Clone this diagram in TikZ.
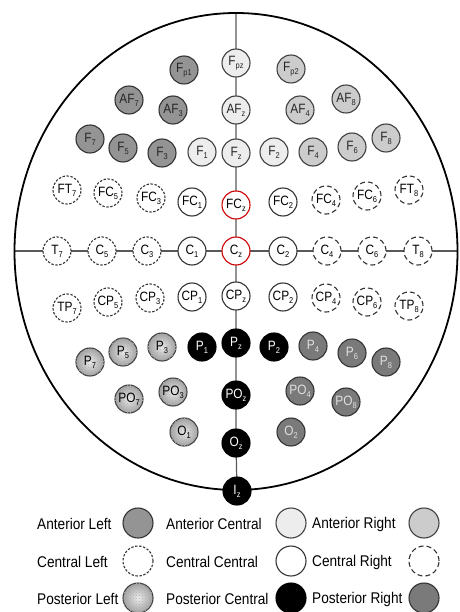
\documentclass[tikz,border=0pt]{standalone}
\usepackage{fontspec}
\setmainfont[FakeStretch=0.88]{Liberation Sans}
\usetikzlibrary{backgrounds,patterns}

% electrode name with a small lowered index
\newcommand\eln[2]{#1\raisebox{-0.4ex}{\fontsize{8.5}{8.5}\selectfont #2}}

\begin{document}
\begin{tikzpicture}[x=1pt,y=-1pt,
  el/.style={circle, minimum size=28pt, inner sep=0pt, line width=1.1pt,
             font=\fontsize{13.5}{13.5}\selectfont},
  antL/.style={el, draw=black!80, fill=black!42, text=black!85},
  antC/.style={el, draw=black!75, fill=black!7, text=black!85},
  antR/.style={el, draw=black!75, fill=black!20, text=black!85},
  cenL/.style={el, draw=black!80, fill=white, dash pattern=on 2.4pt off 1.6pt},
  cenC/.style={el, draw=black!80, fill=white},
  cenR/.style={el, draw=black!80, fill=white, dash pattern=on 5pt off 3pt},
  posL/.style={el, draw=black!75, inner color=black!6, outer color=black!38,
               postaction={pattern=crosshatch dots, pattern color=black!30}},
  posC/.style={el, draw=black, fill=black, text=white},
  posR/.style={el, draw=black!80, fill=black!52, text=black!12},
  midline/.style={draw=black!65, line width=1.2pt},
  legtext/.style={anchor=west, inner sep=0pt, font=\fontsize{15.5}{15.5}\selectfont},
  legkey/.style={minimum size=30pt},
  ref/.style={draw=red!80!black}
]
\useasboundingbox (0,0) rectangle (459,612);

% head outline and its reference points
\draw[line width=1.8pt] (236,251.5) ellipse [x radius=221.5pt, y radius=238.5pt];
\coordinate (htop) at (236,13);
\coordinate (hleft) at (14.5,251);
\coordinate (hright) at (457.5,251);

% anterior left
\node[antL] (Fp1) at (184,70) {\eln{F}{p1}};
\node[antL] (AF7) at (129,100) {\eln{AF}{7}};
\node[antL] (AF3) at (173,110) {\eln{AF}{3}};
\node[antL] (F7) at (90,139) {\eln{F}{7}};
\node[antL] (F5) at (123,148) {\eln{F}{5}};
\node[antL] (F3) at (162,153) {\eln{F}{3}};
% anterior central
\node[antC] (Fpz) at (236,63) {\eln{F}{pz}};
\node[antC] (AFz) at (236,110) {\eln{AF}{z}};
\node[antC] (Fz) at (236,153) {\eln{F}{z}};
\node[antC] (F1) at (202,152) {\eln{F}{1}};
\node[antC] (F2) at (274,152) {\eln{F}{2}};
% anterior right
\node[antR] (Fp2) at (291,69) {\eln{F}{p2}};
\node[antR] (AF4) at (300,110) {\eln{AF}{4}};
\node[antR] (AF8) at (346,99) {\eln{AF}{8}};
\node[antR] (F4) at (313,152) {\eln{F}{4}};
\node[antR] (F6) at (352,147) {\eln{F}{6}};
\node[antR] (F8) at (386,138) {\eln{F}{8}};
% central left
\node[cenL] (FT7) at (67,190) {\eln{FT}{7}};
\node[cenL] (FC5) at (108,193) {\eln{FC}{5}};
\node[cenL] (FC3) at (151,198) {\eln{FC}{3}};
\node[cenL] (T7) at (57,251) {\eln{T}{7}};
\node[cenL] (C5) at (102,251) {\eln{C}{5}};
\node[cenL] (C3) at (147,251) {\eln{C}{3}};
\node[cenL] (TP7) at (67,308) {\eln{TP}{7}};
\node[cenL] (CP5) at (108,302) {\eln{CP}{5}};
\node[cenL] (CP3) at (150,298) {\eln{CP}{3}};
% central central
\node[cenC] (FC1) at (192,202) {\eln{FC}{1}};
\node[cenC,ref] (FCz) at (236,205) {\eln{FC}{z}};
\node[cenC] (FC2) at (283,202) {\eln{FC}{2}};
\node[cenC] (C1) at (192,251) {\eln{C}{1}};
\node[cenC,ref] (Cz) at (236,251) {\eln{C}{z}};
\node[cenC] (C2) at (283,251) {\eln{C}{2}};
\node[cenC] (CP1) at (192,297) {\eln{CP}{1}};
\node[cenC] (CPz) at (236,296) {\eln{CP}{z}};
\node[cenC] (CP2) at (283,297) {\eln{CP}{2}};
% central right
\node[cenR] (FC4) at (326,200) {\eln{FC}{4}};
\node[cenR] (FC6) at (367,196) {\eln{FC}{6}};
\node[cenR] (FT8) at (409,190) {\eln{FT}{8}};
\node[cenR] (C4) at (327,251) {\eln{C}{4}};
\node[cenR] (C6) at (372,251) {\eln{C}{6}};
\node[cenR] (T8) at (418,251) {\eln{T}{8}};
\node[cenR] (CP4) at (326,298) {\eln{CP}{4}};
\node[cenR] (CP6) at (367,302) {\eln{CP}{6}};
\node[cenR] (TP8) at (409,306) {\eln{TP}{8}};
% posterior left
\node[posL] (P7) at (90,362) {\eln{P}{7}};
\node[posL] (P5) at (123,352) {\eln{P}{5}};
\node[posL] (P3) at (162,347) {\eln{P}{3}};
\node[posL] (PO7) at (129,399) {\eln{PO}{7}};
\node[posL] (PO3) at (173,392) {\eln{PO}{3}};
\node[posL] (O1) at (184,432) {\eln{O}{1}};
% posterior central
\node[posC] (P1) at (202,347) {\eln{P}{1}};
\node[posC] (Pz) at (236,343) {\eln{P}{z}};
\node[posC] (P2) at (274,347) {\eln{P}{2}};
\node[posC] (POz) at (236,395) {\eln{PO}{z}};
\node[posC] (Oz) at (236,443) {\eln{O}{z}};
\node[posC] (Iz) at (237,491) {\eln{I}{z}};
% posterior right
\node[posR] (P4) at (313,346) {\eln{P}{4}};
\node[posR] (P6) at (352,353) {\eln{P}{6}};
\node[posR] (P8) at (386,362) {\eln{P}{8}};
\node[posR] (PO4) at (300,391) {\eln{PO}{4}};
\node[posR] (PO8) at (346,402) {\eln{PO}{8}};
\node[posR] (O2) at (291,432) {\eln{O}{2}};

% midline and ear-to-ear line behind the electrodes
\begin{scope}[on background layer]
  \draw[midline] (htop) -- (Fpz.center) -- (AFz.center) -- (Fz.center) -- (FCz.center)
    -- (Cz.center) -- (CPz.center) -- (Pz.center) -- (POz.center) -- (Oz.center) -- (Iz.center);
  \draw[midline] (hleft) -- (T7.center) -- (C5.center) -- (C3.center) -- (C1.center)
    -- (Cz.center) -- (C2.center) -- (C4.center) -- (C6.center) -- (T8.center) -- (hright);
\end{scope}

% legend
\node[legtext] (tAL) at (37,524) {Anterior Left};
\node[antL,legkey] (kAL) at (138,523) {};
\node[legtext] (tAC) at (166,524) {Anterior Central};
\node[antC,legkey] (kAC) at (291,523) {};
\node[legtext] (tAR) at (312,524) {Anterior Right};
\node[antR,legkey] (kAR) at (424,523) {};

\node[legtext] (tCL) at (37,562) {Central Left};
\node[cenL,legkey] (kCL) at (138,561) {};
\node[legtext] (tCC) at (166,562) {Central Central};
\node[cenC,legkey] (kCC) at (291,561) {};
\node[legtext] (tCR) at (312,562) {Central Right};
\node[cenR,legkey] (kCR) at (424,561) {};

\node[legtext] (tPL) at (37,599) {Posterior Left};
\node[posL,legkey] (kPL) at (138,598) {};
\node[legtext] (tPC) at (166,599) {Posterior Central};
\node[posC,legkey] (kPC) at (291,598) {};
\node[legtext] (tPR) at (312,599) {Posterior Right};
\node[posR,legkey] (kPR) at (424,598) {};
\end{tikzpicture}
\end{document}
